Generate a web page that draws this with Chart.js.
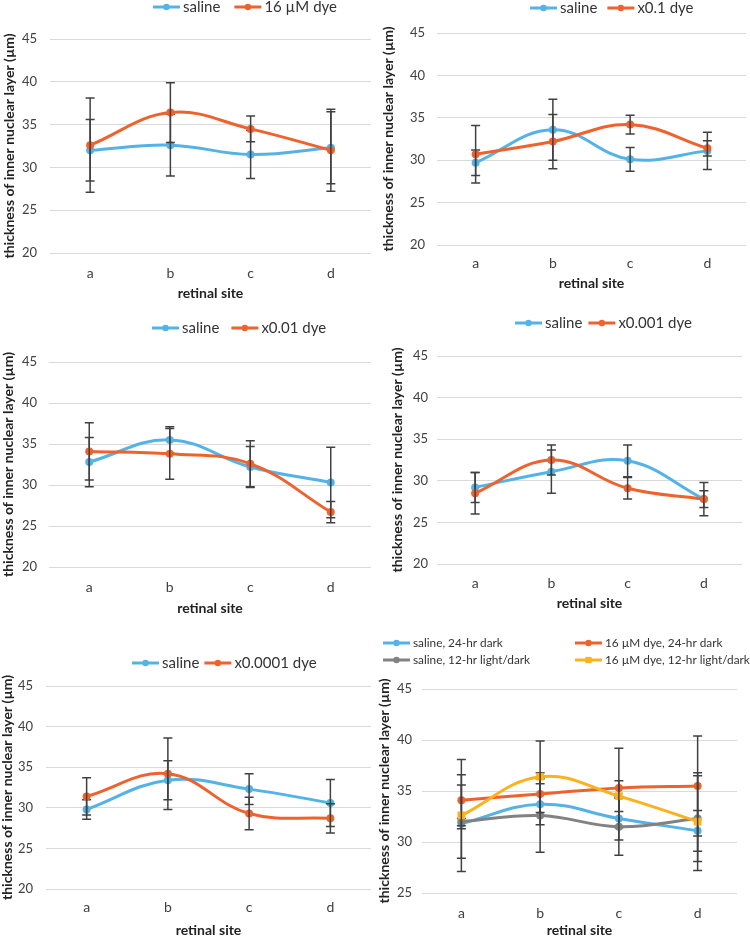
<!DOCTYPE html>
<html>
<head>
<meta charset="utf-8">
<title>Inner nuclear layer thickness by retinal site</title>
<script src="https://cdn.jsdelivr.net/npm/chart.js@4.4.1/dist/chart.umd.min.js"></script>
<style>
html, body { margin: 0; padding: 0; background: #fff; width: 750px; height: 936px; overflow: hidden; }
canvas { position: absolute; }
</style>
</head>
<body>
<canvas id="p1"></canvas>
<canvas id="p2"></canvas>
<canvas id="p3"></canvas>
<canvas id="p4"></canvas>
<canvas id="p5"></canvas>
<canvas id="p6"></canvas>
<script>
// categories and axis ranges
const sites = ['a', 'b', 'c', 'd'];
const yRange = [20, 45];
const yRangeLight = [25, 45];
const yStep = 5;

// 16 uM dye vs saline
const saline16 = [32.0, 32.6, 31.5, 32.3];
const saline16Err = [3.6, 3.6, 2.8, 4.2];
const dye16 = [32.6, 36.4, 34.5, 32.0];
const dye16Err = [5.5, 3.5, 1.5, 4.8];

// x0.1 dye
const saline01 = [29.7, 33.6, 30.1, 31.1];
const saline01Err = [1.5, 3.6, 1.4, 2.2];
const dye01 = [30.7, 32.2, 34.2, 31.4];
const dye01Err = [3.4, 3.2, 1.1, 0.9];

// x0.01 dye
const saline001 = [32.8, 35.5, 32.2, 30.3];
const saline001Err = [3.0, 1.6, 2.5, 4.3];
const dye001 = [34.1, 33.8, 32.6, 26.7];
const dye001Err = [3.5, 3.1, 2.8, 1.3];

// x0.001 dye
const saline0001 = [29.2, 31.1, 32.4, 27.8];
const saline0001Err = [1.8, 2.6, 1.9, 1.0];
const dye0001 = [28.5, 32.5, 29.1, 27.8];
const dye0001Err = [2.5, 1.8, 1.3, 2.0];

// x0.0001 dye
const saline00001 = [29.8, 33.4, 32.3, 30.6];
const saline00001Err = [1.2, 2.4, 1.9, 2.9];
const dye00001 = [31.4, 34.2, 29.3, 28.7];
const dye00001Err = [2.3, 4.4, 2.0, 1.8];

// light conditions
const salineDark = [31.8, 33.7, 32.3, 31.1];
const salineDarkErr = [0.5, 2.0, 2.1, 2.0];
const dyeDark = [34.1, 34.7, 35.3, 35.5];
const dyeDarkErr = [2.5, 2.1, 3.9, 4.9];
const salineLD = [32.0, 32.6, 31.5, 32.3];
const salineLDErr = [3.6, 3.6, 2.8, 4.2];
const dyeLD = [32.6, 36.4, 34.5, 32.0];
const dyeLDErr = [5.5, 3.5, 1.5, 4.8];

const BLUE = '#53b3e6';
const ORANGE = '#f0622d';
const GRAY = '#828282';
const YELLOW = '#fbb21d';
const FONT = 'Lato, "Open Sans", sans-serif';
const TITLE_SIZE = 14;

// error bars drawn right after each line
const errorBars = {
    id: 'errorBars',
    afterDatasetDraw(chart, args) {
        const ds = chart.data.datasets[args.index];
        if (!ds.errors) return;
        const xs = chart.scales.x, ys = chart.scales.y, ctx = chart.ctx;
        ctx.save();
        ctx.strokeStyle = '#404040';
        ctx.lineWidth = 1.5;
        ds.data.forEach((v, i) => {
            const px = xs.getPixelForValue(i);
            const top = ys.getPixelForValue(v + ds.errors[i]);
            const bot = ys.getPixelForValue(v - ds.errors[i]);
            ctx.beginPath();
            ctx.moveTo(px, top); ctx.lineTo(px, bot);
            ctx.moveTo(px - 4.5, top); ctx.lineTo(px + 4.5, top);
            ctx.moveTo(px - 4.5, bot); ctx.lineTo(px + 4.5, bot);
            ctx.stroke();
        });
        ctx.restore();
    }
};

// excel style legend: short line with a marker, placed freely
const panelLegend = {
    id: 'panelLegend',
    afterDraw(chart, args, opts) {
        const ctx = chart.ctx;
        ctx.save();
        ctx.font = opts.size + 'px ' + FONT;
        ctx.textBaseline = 'middle';
        let x = opts.x;
        chart.data.datasets.forEach((ds, i) => {
            let lx = x, ly = opts.y;
            if (opts.cols) {
                lx = opts.cols[i % opts.cols.length];
                ly = opts.rows[Math.floor(i / opts.cols.length)];
            }
            ctx.strokeStyle = ds.borderColor;
            ctx.lineWidth = 3;
            ctx.beginPath();
            ctx.moveTo(lx, ly);
            ctx.lineTo(lx + 27, ly);
            ctx.stroke();
            ctx.fillStyle = ds.borderColor;
            Chart.helpers.drawPoint(ctx, { pointStyle: ds.pointStyle, radius: ds.pointRadius * 0.8, borderWidth: 0 }, lx + 13.5, ly);
            ctx.fillStyle = '#333';
            ctx.fillText(ds.label, lx + 30, ly);
            x = lx + 30 + ctx.measureText(ds.label).width + opts.gap;
        });
        ctx.restore();
    }
};

function makePanel(id, cell, g, series, range, legend) {
    const cv = document.getElementById(id);
    cv.width = cell.w;
    cv.height = cell.h;
    cv.style.left = cell.x + 'px';
    cv.style.top = cell.y + 'px';

    const lhT = TITLE_SIZE * 1.2;
    const padLeft = g.yTitle - cell.x - lhT / 2;
    const yW = g.left - cell.x - padLeft;
    const xH = g.xTitle - g.bottom + lhT / 2;
    const padBottom = cell.h - (g.bottom - cell.y) - xH;

    const leg = Object.assign({}, legend);
    if (leg.cols) {
        leg.cols = leg.cols.map(v => v - cell.x);
        leg.rows = leg.rows.map(v => v - cell.y);
    } else {
        leg.x -= cell.x;
        leg.y -= cell.y;
    }

    new Chart(cv, {
        type: 'line',
        data: {
            labels: sites,
            datasets: series.map((s, i) => ({
                label: s.label,
                data: s.values,
                errors: s.errors,
                borderColor: s.color,
                backgroundColor: s.color,
                pointBackgroundColor: s.color,
                pointBorderColor: s.color,
                pointStyle: s.marker || 'circle',
                pointRadius: s.marker === 'rect' ? 5.5 : 4,
                pointBorderWidth: 0,
                borderWidth: 3,
                tension: 0.4,
                order: series.length - i
            }))
        },
        options: {
            responsive: false,
            animation: false,
            events: [],
            layout: {
                padding: {
                    top: g.top - cell.y,
                    right: cell.x + cell.w - g.right,
                    bottom: padBottom,
                    left: padLeft
                }
            },
            plugins: {
                legend: { display: false },
                tooltip: { enabled: false },
                panelLegend: leg
            },
            scales: {
                x: {
                    offset: true,
                    grid: { display: false, drawTicks: false },
                    border: { display: false },
                    ticks: {
                        padding: g.catY - g.bottom - 8.4,
                        color: '#404040',
                        font: { family: FONT, size: 14 }
                    },
                    title: {
                        display: true,
                        text: 'retinal site',
                        color: '#222',
                        padding: 0,
                        font: { family: FONT, size: TITLE_SIZE, weight: 'bold' }
                    },
                    afterFit: s => { s.height = xH; }
                },
                y: {
                    min: range[0],
                    max: range[1],
                    ticks: {
                        stepSize: yStep,
                        padding: g.left - g.tickRight,
                        color: '#404040',
                        font: { family: FONT, size: 13 }
                    },
                    grid: { color: '#d9d9d9', drawTicks: false },
                    border: { display: false },
                    title: {
                        display: true,
                        text: 'thickness of inner nuclear layer (µm)',
                        color: '#222',
                        padding: 0,
                        font: { family: FONT, size: TITLE_SIZE, weight: 'bold' }
                    },
                    afterFit: s => { s.width = yW; }
                }
            }
        },
        plugins: [errorBars, panelLegend]
    });
}

makePanel('p1', { x: 0, y: 0, w: 375, h: 310 },
    { left: 50, right: 373, top: 39, bottom: 253, yTitle: 9, xTitle: 293, tickRight: 37, catY: 273 },
    [
        { label: 'saline', values: saline16, errors: saline16Err, color: BLUE },
        { label: '16 µM dye', values: dye16, errors: dye16Err, color: ORANGE }
    ], yRange, { x: 153, y: 7, gap: 14, size: 15 });

makePanel('p2', { x: 375, y: 0, w: 375, h: 310 },
    { left: 437, right: 750, top: 33, bottom: 245, yTitle: 388, xTitle: 283, tickRight: 425, catY: 263 },
    [
        { label: 'saline', values: saline01, errors: saline01Err, color: BLUE },
        { label: 'x0.1 dye', values: dye01, errors: dye01Err, color: ORANGE }
    ], yRange, { x: 530, y: 8, gap: 10, size: 15 });

makePanel('p3', { x: 0, y: 310, w: 375, h: 310 },
    { left: 49, right: 375, top: 362, bottom: 567, yTitle: 8, xTitle: 608, tickRight: 37, catY: 587 },
    [
        { label: 'saline', values: saline001, errors: saline001Err, color: BLUE },
        { label: 'x0.01 dye', values: dye001, errors: dye001Err, color: ORANGE }
    ], yRange, { x: 152, y: 328, gap: 12, size: 15 });

makePanel('p4', { x: 375, y: 310, w: 375, h: 310 },
    { left: 437, right: 742, top: 356, bottom: 564, yTitle: 397, xTitle: 603, tickRight: 428, catY: 583 },
    [
        { label: 'saline', values: saline0001, errors: saline0001Err, color: BLUE },
        { label: 'x0.001 dye', values: dye0001, errors: dye0001Err, color: ORANGE }
    ], yRange, { x: 515, y: 323, gap: 6, size: 15 });

makePanel('p5', { x: 0, y: 620, w: 375, h: 320 },
    { left: 46, right: 375, top: 686, bottom: 889, yTitle: 7, xTitle: 930, tickRight: 33, catY: 907 },
    [
        { label: 'saline', values: saline00001, errors: saline00001Err, color: BLUE },
        { label: 'x0.0001 dye', values: dye00001, errors: dye00001Err, color: ORANGE }
    ], yRange, { x: 132, y: 663, gap: 5, size: 15 });

makePanel('p6', { x: 375, y: 620, w: 375, h: 320 },
    { left: 422, right: 737, top: 689, bottom: 893, yTitle: 384, xTitle: 930, tickRight: 412, catY: 913 },
    [
        { label: 'saline, 24-hr dark', values: salineDark, errors: salineDarkErr, color: BLUE },
        { label: '16 µM dye, 24-hr dark', values: dyeDark, errors: dyeDarkErr, color: ORANGE },
        { label: 'saline, 12-hr light/dark', values: salineLD, errors: salineLDErr, color: GRAY },
        { label: '16 µM dye, 12-hr light/dark', values: dyeLD, errors: dyeLDErr, color: YELLOW, marker: 'rect' }
    ], yRangeLight, { cols: [383, 575], rows: [643, 660], size: 11.8 });
</script>
</body>
</html>
